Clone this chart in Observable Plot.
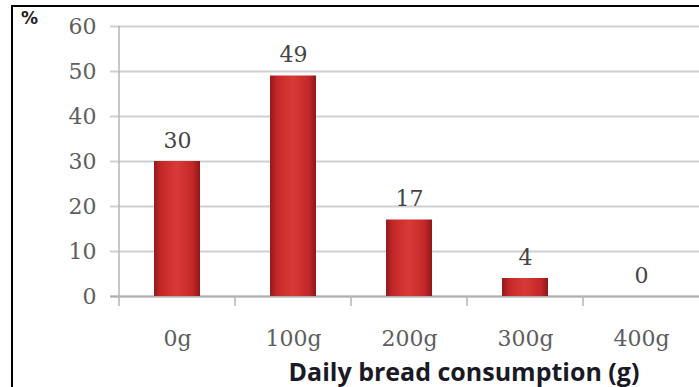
<!DOCTYPE html>
<html>
<head>
<meta charset="utf-8">
<script src="https://cdn.jsdelivr.net/npm/d3@7"></script>
<script src="https://cdn.jsdelivr.net/npm/@observablehq/plot@0.6"></script>
<style>
  html, body { margin: 0; padding: 0; background: #fff; overflow: hidden; }
  #chart {
    position: absolute; left: 11px; top: 5px;
    border-top: 2px solid #000; border-left: 2px solid #000;
  }
</style>
</head>
<body>
<div id="chart"></div>
<script>
// Share of respondents (%) by daily bread consumption
const categories = ["0g", "100g", "200g", "300g", "400g"];
const shares = [30, 49, 17, 4, 0];
const yTicks = [0, 10, 20, 30, 40, 50, 60];
const yUnit = "%";
const xTitle = "Daily bread consumption (g)";

const data = categories.map((category, i) => ({category, share: shares[i]}));

// Axis line on the left plus small tick marks at each category boundary
function bandEdges(index, scales, values, dimensions) {
  const {x, y} = scales;
  const y0 = y(0);
  const yTop = y(d3.max(yTicks));
  const edges = categories.map((c) => x(c));
  const g = d3.create("svg:g").attr("stroke", "#b4b4b4").attr("stroke-width", 1.5);
  g.append("line").attr("x1", edges[0]).attr("x2", edges[0]).attr("y1", yTop).attr("y2", y0 + 10);
  for (const e of edges.slice(1)) {
    g.append("line").attr("x1", e).attr("x2", e).attr("y1", y0).attr("y2", y0 + 10);
  }
  return g.node();
}

const chart = Plot.plot({
  width: 686,
  height: 380,
  marginLeft: 105,
  marginRight: 0,
  marginTop: 19,
  marginBottom: 91,
  style: {fontFamily: "'DejaVu Serif', serif", fontSize: "22px", color: "#5e5e5e", background: "#fff", overflow: "visible"},
  x: {domain: categories, padding: 0, label: null},
  y: {domain: [0, 60], label: null},
  marks: [
    Plot.gridY(yTicks, {stroke: "#d0d0d0", strokeOpacity: 1, strokeWidth: 1.8, insetLeft: -8}),
    Plot.ruleY([0], {stroke: "#b0b0b0", strokeWidth: 1.8, insetLeft: -8}),
    bandEdges,
    Plot.axisY(yTicks, {tickSize: 0, tickPadding: 22, label: null, fontSize: 22}),
    Plot.axisX({tickSize: 0, tickPadding: 34, label: null, fontSize: 22}),
    Plot.barY(data, {x: "category", y: "share", fill: "url(#barShade)", insetLeft: 35, insetRight: 35}),
    Plot.text(data, {x: "category", y: "share", text: (d) => String(d.share), lineAnchor: "bottom", dy: -14, fill: "#444", fontSize: 22}),
    Plot.text([yUnit], {frameAnchor: "top-left", text: (d) => d, dx: -89, dy: -8, textAnchor: "middle", lineAnchor: "middle", fontFamily: "'DejaVu Sans', sans-serif", fontWeight: "bold", fontSize: 17, fill: "#222"}),
    Plot.text([xTitle], {frameAnchor: "bottom", text: (d) => d, dx: 55, dy: 67, lineAnchor: "top", fontFamily: "'Open Sans', sans-serif", fontWeight: "bold", fontSize: 25, fill: "#1a1a26"})
  ]
});

// Horizontal shading that gives the bars a rounded, cylindrical look
chart.insertAdjacentHTML("afterbegin", `
  <defs>
    <linearGradient id="barShade" x1="0" x2="1" y1="0" y2="0">
      <stop offset="0" stop-color="#951a1a"/>
      <stop offset="0.15" stop-color="#c42828"/>
      <stop offset="0.5" stop-color="#d93a38"/>
      <stop offset="0.85" stop-color="#c22727"/>
      <stop offset="1" stop-color="#8e1717"/>
    </linearGradient>
  </defs>`);

document.getElementById("chart").append(chart);
</script>
</body>
</html>
